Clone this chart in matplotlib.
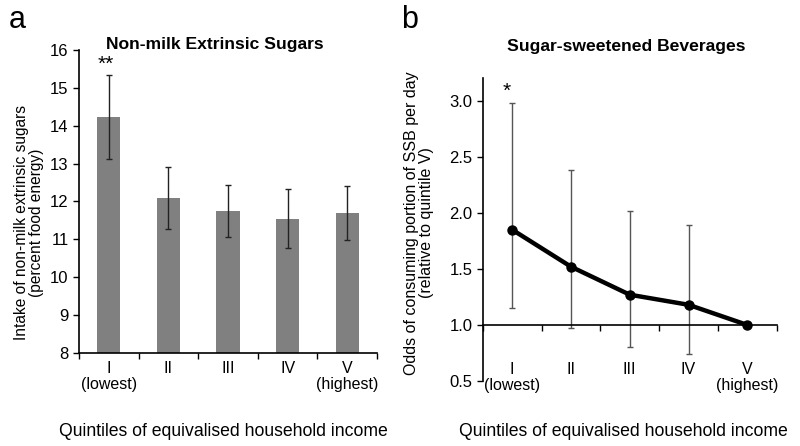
import matplotlib
matplotlib.use("Agg")
from matplotlib import pyplot as plt

plt.rcParams['font.family'] = ['Liberation Sans', 'DejaVu Sans']

# data
quintiles = ["I\n(lowest)", "II", "III", "IV", "V\n(highest)"]
nmes_mean = [14.24, 12.08, 11.74, 11.54, 11.69]
nmes_upper = [15.34, 12.92, 12.43, 12.32, 12.41]
nmes_lower = [13.12, 11.27, 11.06, 10.77, 10.99]

ssb_odds = [1.85, 1.52, 1.27, 1.18, 1.0]
ssb_upper = [2.98, 2.38, 2.02, 1.89, 1.0]
ssb_lower = [1.15, 0.97, 0.80, 0.74, 1.0]

pos = list(range(len(quintiles)))
bounds = [p + 0.5 for p in pos[:-1]] + [-0.5, 4.5]

fig = plt.figure(figsize=(8.0, 4.46), dpi=100)

#Panel a - bars
ax1 = fig.add_axes([0.09875, 0.2085, 0.3725, 0.6795])
err1 = [[m - l for m, l in zip(nmes_mean, nmes_lower)],
        [u - m for m, u in zip(nmes_mean, nmes_upper)]]
ax1.bar(pos, nmes_mean, width=0.39, bottom=0, color='#808080',
        yerr=err1, error_kw=dict(ecolor='#222222', elinewidth=1.0, capsize=2.5, capthick=1.0))
ax1.set_ylim(8, 16)
ax1.set_xlim(-0.5, 4.5)
ax1.set_yticks(range(8, 17))
ax1.set_xticks(pos)
ax1.set_xticklabels(quintiles, linespacing=1.05)
ax1.set_xticks(bounds, minor=True)
ax1.tick_params(axis='x', which='major', length=0, pad=6, labelsize=11.5)
ax1.tick_params(axis='x', which='minor', length=4, direction='out', width=1)
ax1.tick_params(axis='y', labelsize=12, length=4, width=1)
for s in ['top', 'right']:
    ax1.spines[s].set_visible(False)
ax1.spines['left'].set_linewidth(1.2)
ax1.spines['bottom'].set_linewidth(1.2)
ax1.set_ylabel("Intake of non-milk extrinsic sugars\n(percent food energy)", fontsize=11.2, linespacing=1.0)
ax1.yaxis.set_label_coords(44 / 800, 0.5, transform=fig.transFigure)
ax1.set_xlabel("Quintiles of equivalised household income", fontsize=12.7)
ax1.xaxis.set_label_coords(223 / 800, 1 - 423 / 446, transform=fig.transFigure)
ax1.text(-0.05, 15.62, "**", ha='center', va='center', fontsize=15)

fig.text(215 / 800, 1 - 45 / 446, "Non-milk Extrinsic Sugars", ha='center', va='center',
         fontsize=12.6, fontweight='bold')
fig.text(9 / 800, 1 - 20 / 446, "a", ha='left', va='center', fontsize=22)

#Panel b - odds line
ax2 = fig.add_axes([0.6034, 0.1457, 0.3675, 0.6787])
err2 = [[m - l for m, l in zip(ssb_odds, ssb_lower)],
        [u - m for m, u in zip(ssb_odds, ssb_upper)]]
ax2.errorbar(pos[:-1], ssb_odds[:-1], yerr=[err2[0][:-1], err2[1][:-1]], fmt='none',
             ecolor='#555555', elinewidth=1.0, capsize=2.5, capthick=1.0, zorder=2)
ax2.plot(pos, ssb_odds, color='black', linewidth=3.2, marker='o', markersize=6.5, zorder=3)
ax2.spines['bottom'].set_position(('data', 1.0))
ax2.set_ylim(0.5, 3.2)
ax2.set_xlim(-0.5, 4.5)
ax2.set_yticks([0.5, 1.0, 1.5, 2.0, 2.5, 3.0])
ax2.set_yticklabels(["0.5", "1.0", "1.5", "2.0", "2.5", "3.0"])
ax2.set_xticks(pos)
ax2.set_xticklabels(quintiles, linespacing=1.05)
ax2.set_xticks(bounds, minor=True)
ax2.tick_params(axis='x', which='major', length=0, pad=27, labelsize=11.5)
ax2.tick_params(axis='x', which='minor', length=4, direction='out', width=1)
ax2.tick_params(axis='y', labelsize=12, length=4, width=1)
for s in ['top', 'right']:
    ax2.spines[s].set_visible(False)
ax2.spines['left'].set_linewidth(1.2)
ax2.spines['bottom'].set_linewidth(1.2)
ax2.set_ylabel("Odds of consuming portion of SSB per day\n(relative to quintile V)", fontsize=11.5, linespacing=1.0)
ax2.yaxis.set_label_coords(434 / 800, 0.5, transform=fig.transFigure)
ax2.set_xlabel("Quintiles of equivalised household income", fontsize=12.7)
ax2.xaxis.set_label_coords(623 / 800, 1 - 423 / 446, transform=fig.transFigure)
ax2.text(-0.1, 3.08, "*", ha='center', va='center', fontsize=15)

fig.text(626 / 800, 1 - 47 / 446, "Sugar-sweetened Beverages", ha='center', va='center',
         fontsize=12.6, fontweight='bold')
fig.text(401 / 800, 1 - 20 / 446, "b", ha='left', va='center', fontsize=22)

fig.savefig("out.png", dpi=100)
